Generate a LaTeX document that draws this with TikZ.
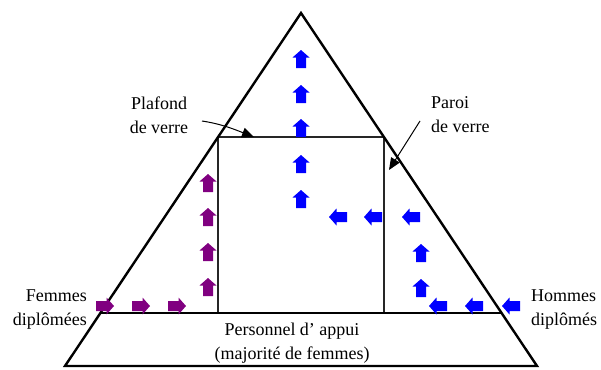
\documentclass[tikz,border=0pt]{standalone}
\usepackage{fontspec}
\setmainfont{Liberation Serif}
\usetikzlibrary{arrows.meta,calc}
\definecolor{fpurple}{RGB}{128,0,128}
\definecolor{hblue}{RGB}{0,0,255}
\tikzset{
  thickline/.style={line width=2.4pt,black},
  thinline/.style={line width=1.3pt,black!85},
  lbl/.style={font=\fontsize{18}{24}\selectfont,inner sep=0pt},
  blockarr/.pic={\fill (-5,9) -- (-5,-1.5) -- (-8.5,-1.5) -- (0,-9) -- (8.5,-1.5) -- (5,-1.5) -- (5,9) -- cycle;},
  pointer/.style={line width=1pt,-{Triangle[length=12pt,width=10pt]}}
}
\begin{document}
\begin{tikzpicture}[x=1pt,y=-1pt]
\useasboundingbox (0,0) rectangle (601,369);
% triangle
\coordinate (A) at (301,13);
\coordinate (B) at (65,366);
\coordinate (C) at (537,366);
\coordinate (ML) at ($(B)!0.150!(A)$);
\coordinate (MR) at ($(C)!0.150!(A)$);
\coordinate (TL) at ($(B)!0.6487!(A)$);
\coordinate (TR) at ($(C)!0.6487!(A)$);
% rectangle (glass ceiling box)
\draw[thinline] (TL |- ML) -- (TL) -- (TR) -- (TR |- ML);
\draw[thickline,line join=miter] (A) -- (B) -- (C) -- cycle;
\draw[thickline] (ML) -- (MR);
% labels
\node[lbl,align=center] (plafond) at (159,115) {Plafond\\de verre};
\node[lbl,align=left,anchor=west] (paroi) at (431,115) {Paroi\\de verre};
\node[lbl,align=right,anchor=east] (femmes) at (87,310) {Femmes\\diplômées};
\node[lbl,align=left,anchor=west] (hommes) at (531,310) {Hommes\\diplômés};
\node[lbl,align=center] (appui) at (292,343) {Personnel d’ appui\\(majorité de femmes)};
% pointers
\coordinate (p1s) at (202,121);
\coordinate (p1e) at (254,137);
\coordinate (p2s) at (420,121);
\coordinate (p2e) at (389,170);
\draw[pointer] (p1s) .. controls (222,124) and (236,130) .. (p1e);
\draw[pointer] (p2s) -- (p2e);
% women arrows
\begin{scope}[fpurple]
  \foreach \x in {105,141,177} \pic[rotate=-90] at (\x,306) {blockarr};
  \foreach \y in {183,217,252,287} \pic at (208,\y) {blockarr};
\end{scope}
% men arrows
\begin{scope}[hblue]
  \foreach \y in {59,94,128,164,199} \pic at (301,\y) {blockarr};
  \foreach \x in {338,373,411} \pic[rotate=90] at (\x,217) {blockarr};
  \foreach \y in {253,288} \pic at (421,\y) {blockarr};
  \foreach \x in {438,474,511} \pic[rotate=90] at (\x,306) {blockarr};
\end{scope}
\end{tikzpicture}
\end{document}
